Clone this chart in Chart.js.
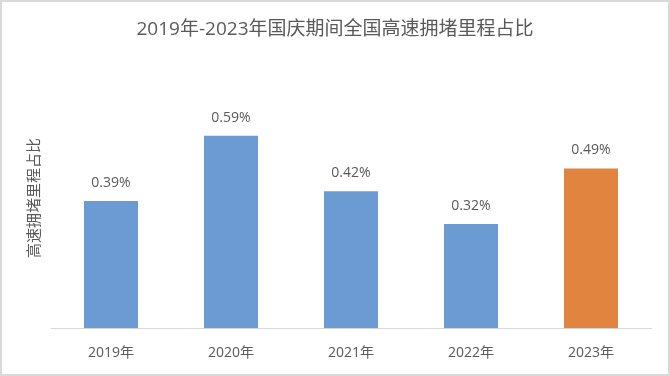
<!DOCTYPE html>
<html>
<head>
<meta charset="utf-8">
<script src="https://cdn.jsdelivr.net/npm/chart.js@4"></script>
<style>
	html, body { margin: 0; padding: 0; background: #fff; }
	#wrap { width: 670px; height: 376px; position: relative; }
</style>
</head>
<body>
<div id="wrap"><canvas id="chart-congestion"></canvas></div>
<script>
	const YEARS = ["2019年", "2020年", "2021年", "2022年", "2023年"];
	const CONGESTION_SHARE = [0.39, 0.59, 0.42, 0.32, 0.49];
	const BAR_COLORS = ["#6b9bd2", "#6b9bd2", "#6b9bd2", "#6b9bd2", "#e0843f"];
	const Y_MAX = 0.7;
	const TITLE = "2019年-2023年国庆期间全国高速拥堵里程占比";
	const Y_TITLE = "高速拥堵里程占比";

	const FONT = "'Open Sans', 'Noto Sans CJK SC', sans-serif";
	const TEXT_COLOR = "#595959";

	// White background, light frame and the chart title
	const frame = {
		id: "frame",
		beforeDraw: (chart) => {
			const { ctx, width, height } = chart;
			ctx.save();
			ctx.fillStyle = "#fff";
			ctx.fillRect(0, 0, width, height);
			ctx.strokeStyle = "#d9d9d9";
			ctx.lineWidth = 2;
			ctx.strokeRect(1, 1, width - 2, height - 2);
			ctx.font = "19px " + FONT;
			ctx.fillStyle = TEXT_COLOR;
			ctx.textAlign = "center";
			ctx.textBaseline = "middle";
			ctx.fillText(TITLE, width / 2, 30);
			ctx.restore();
		},
	};

	// Value labels above each bar
	const valueLabels = {
		id: "valueLabels",
		afterDatasetsDraw: (chart) => {
			const { ctx } = chart;
			const meta = chart.getDatasetMeta(0);
			ctx.save();
			ctx.font = "14px " + FONT;
			ctx.fillStyle = TEXT_COLOR;
			ctx.textAlign = "center";
			ctx.textBaseline = "middle";
			meta.data.forEach((bar, i) => {
				ctx.fillText(CONGESTION_SHARE[i].toFixed(2) + "%", bar.x, bar.y - 18);
			});
			ctx.restore();
		},
	};

	// Rotated y axis title
	const yTitle = {
		id: "yTitle",
		afterDraw: (chart) => {
			const { ctx } = chart;
			ctx.save();
			ctx.translate(35, 198);
			ctx.rotate(-Math.PI / 2);
			ctx.font = "15px " + FONT;
			ctx.fillStyle = TEXT_COLOR;
			ctx.textAlign = "center";
			ctx.textBaseline = "middle";
			ctx.fillText(Y_TITLE, 0, 0);
			ctx.restore();
		},
	};

	const CHART_CONFIG = {
		type: "bar",
		data: {
			labels: YEARS,
			datasets: [
				{
					data: CONGESTION_SHARE,
					backgroundColor: BAR_COLORS,
					borderWidth: 0,
					barPercentage: 0.45,
					categoryPercentage: 1,
				},
			],
		},
		options: {
			responsive: false,
			animation: false,
			layout: {
				padding: { left: 51, right: 19, top: 100, bottom: -1 },
			},
			scales: {
				x: {
					border: { display: true, color: "#d9d9d9", width: 1 },
					grid: { display: false, drawTicks: false },
					ticks: {
						color: TEXT_COLOR,
						font: { size: 14, family: FONT },
						padding: 16,
						maxRotation: 0,
					},
				},
				y: {
					display: false,
					min: 0,
					max: Y_MAX,
				},
			},
			plugins: {
				legend: { display: false },
				tooltip: { enabled: false },
			},
		},
		plugins: [frame, valueLabels, yTitle],
	};

	const canvas = document.getElementById("chart-congestion");
	canvas.width = 670;
	canvas.height = 376;
	new Chart(canvas, CHART_CONFIG);
</script>
</body>
</html>
